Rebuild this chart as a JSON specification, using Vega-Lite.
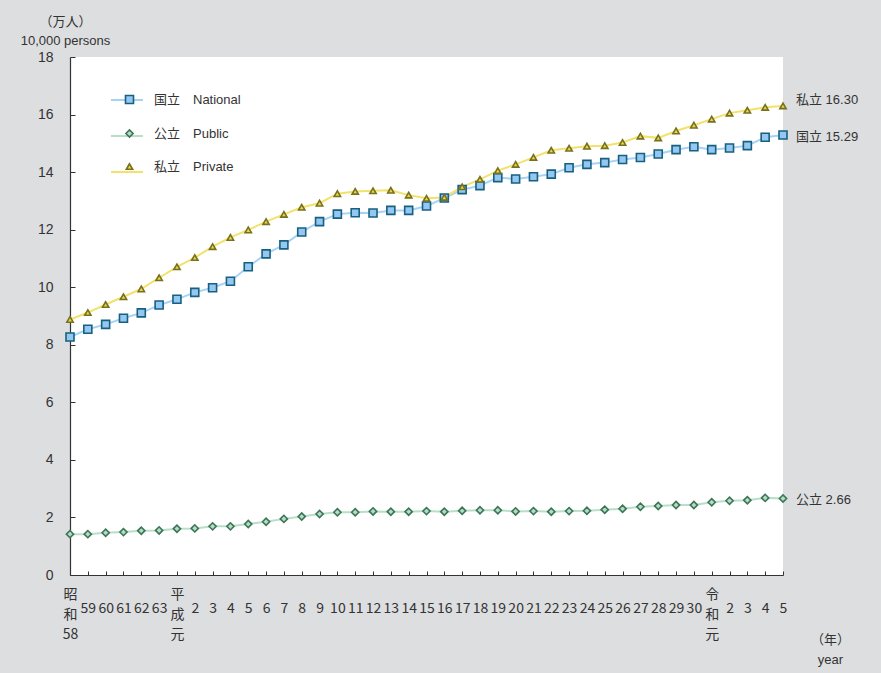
{
  "$schema": "https://vega.github.io/schema/vega-lite/v6.json",
  "width": 713,
  "height": 518,
  "autosize": "none",
  "padding": {"left": 70, "top": 57, "right": 98, "bottom": 98},
  "background": "#dddee0",
  "config": {
    "view": {"fill": "white", "stroke": null},
    "font": "Liberation Sans, Noto Sans CJK JP",
    "axis": {"domainColor": "#333333", "tickColor": "#333333", "labelColor": "#333333", "titleColor": "#333333", "grid": false, "domainWidth": 1.2, "tickWidth": 1}
  },
  "data": {
    "values": [
      {"year": 1983, "国立": 8.27, "公立": 1.42, "私立": 8.88},
      {"year": 1984, "国立": 8.54, "公立": 1.42, "私立": 9.12},
      {"year": 1985, "国立": 8.71, "公立": 1.47, "私立": 9.40},
      {"year": 1986, "国立": 8.92, "公立": 1.49, "私立": 9.67},
      {"year": 1987, "国立": 9.11, "公立": 1.54, "私立": 9.94},
      {"year": 1988, "国立": 9.38, "公立": 1.55, "私立": 10.33},
      {"year": 1989, "国立": 9.58, "公立": 1.61, "私立": 10.71},
      {"year": 1990, "国立": 9.82, "公立": 1.62, "私立": 11.03},
      {"year": 1991, "国立": 9.98, "公立": 1.69, "私立": 11.41},
      {"year": 1992, "国立": 10.21, "公立": 1.69, "私立": 11.73},
      {"year": 1993, "国立": 10.71, "公立": 1.77, "私立": 11.99},
      {"year": 1994, "国立": 11.16, "公立": 1.85, "私立": 12.28},
      {"year": 1995, "国立": 11.47, "公立": 1.95, "私立": 12.53},
      {"year": 1996, "国立": 11.92, "公立": 2.03, "私立": 12.78},
      {"year": 1997, "国立": 12.28, "公立": 2.12, "私立": 12.92},
      {"year": 1998, "国立": 12.54, "公立": 2.18, "私立": 13.25},
      {"year": 1999, "国立": 12.59, "公立": 2.18, "私立": 13.33},
      {"year": 2000, "国立": 12.58, "公立": 2.21, "私立": 13.35},
      {"year": 2001, "国立": 12.67, "公立": 2.20, "私立": 13.37},
      {"year": 2002, "国立": 12.67, "公立": 2.20, "私立": 13.20},
      {"year": 2003, "国立": 12.82, "公立": 2.22, "私立": 13.09},
      {"year": 2004, "国立": 13.10, "公立": 2.20, "私立": 13.12},
      {"year": 2005, "国立": 13.39, "公立": 2.23, "私立": 13.49},
      {"year": 2006, "国立": 13.53, "公立": 2.25, "私立": 13.75},
      {"year": 2007, "国立": 13.81, "公立": 2.25, "私立": 14.05},
      {"year": 2008, "国立": 13.76, "公立": 2.21, "私立": 14.27},
      {"year": 2009, "国立": 13.84, "公立": 2.22, "私立": 14.51},
      {"year": 2010, "国立": 13.93, "公立": 2.20, "私立": 14.76},
      {"year": 2011, "国立": 14.15, "公立": 2.22, "私立": 14.83},
      {"year": 2012, "国立": 14.27, "公立": 2.23, "私立": 14.90},
      {"year": 2013, "国立": 14.33, "公立": 2.27, "私立": 14.92},
      {"year": 2014, "国立": 14.44, "公立": 2.30, "私立": 15.03},
      {"year": 2015, "国立": 14.51, "公立": 2.37, "私立": 15.25},
      {"year": 2016, "国立": 14.63, "公立": 2.40, "私立": 15.19},
      {"year": 2017, "国立": 14.78, "公立": 2.43, "私立": 15.43},
      {"year": 2018, "国立": 14.88, "公立": 2.43, "私立": 15.63},
      {"year": 2019, "国立": 14.78, "公立": 2.53, "私立": 15.84},
      {"year": 2020, "国立": 14.84, "公立": 2.58, "私立": 16.05},
      {"year": 2021, "国立": 14.92, "公立": 2.60, "私立": 16.15},
      {"year": 2022, "国立": 15.21, "公立": 2.68, "私立": 16.25},
      {"year": 2023, "国立": 15.29, "公立": 2.66, "私立": 16.30}
    ]
  },
  "transform": [{"fold": ["国立", "公立", "私立"], "as": ["series", "value"]}],
  "encoding": {
    "x": {
      "field": "year",
      "type": "ordinal",
      "scale": {"type": "point", "padding": 0},
      "axis": {
        "labelAngle": 0,
        "labelOverlap": false,
        "labelFlush": false,
        "labelExpr": "datum.value == 1983 ? ['昭','和','58'] : datum.value == 1989 ? ['平','成','元'] : datum.value == 2019 ? ['令','和','元'] : datum.value < 1989 ? '' + (datum.value - 1925) : datum.value < 2019 ? '' + (datum.value - 1988) : '' + (datum.value - 2018)",
        "labelBaseline": "middle",
        "labelLineHeight": 20,
        "labelFontSize": 14,
        "labelFont": "Liberation Sans Narrow, Noto Sans CJK JP",
        "labelPadding": {"condition": {"test": "datum.value == 1983 || datum.value == 1989 || datum.value == 2019", "value": 23}, "value": 37},
        "tickSize": -4,
        "title": ["（年）", "year"],
        "titleAngle": 0,
        "titleAlign": "center",
        "titleBaseline": "top",
        "titleX": 760,
        "titleY": 58,
        "titleFontSize": 13,
        "titleFontWeight": "normal",
        "titleLineHeight": 20
      }
    },
    "y": {
      "field": "value",
      "type": "quantitative",
      "scale": {"domain": [0, 18], "nice": false},
      "axis": {
        "values": [0, 2, 4, 6, 8, 10, 12, 14, 16, 18],
        "tickSize": -5,
        "labelPadding": 22,
        "labelFontSize": 14,
        "title": ["（万人）", "10,000 persons"],
        "titleAngle": 0,
        "titleAlign": "center",
        "titleBaseline": "top",
        "titleX": -5,
        "titleY": -42,
        "titleFontSize": 13,
        "titleFontWeight": "normal",
        "titleLineHeight": 19
      }
    }
  },
  "layer": [
    {
      "mark": {"type": "line", "strokeWidth": 2},
      "encoding": {
        "color": {
          "field": "series",
          "type": "nominal",
          "sort": ["国立", "公立", "私立"],
          "scale": {"range": ["#a6d3f5", "#b7dfca", "#f3e26a"]},
          "legend": {
            "orient": "none",
            "legendX": 40,
            "legendY": 26,
            "title": null,
            "symbolType": "stroke",
            "symbolSize": 1024,
            "symbolStrokeWidth": 2,
            "labelExpr": "''",
            "rowPadding": 14
          }
        }
      }
    },
    {
      "mark": {"type": "point", "filled": true, "strokeWidth": 1.6, "opacity": 1},
      "encoding": {
        "shape": {
          "field": "series",
          "type": "nominal",
          "scale": {"domain": ["国立", "公立", "私立"], "range": ["square", "diamond", "triangle-up"]},
          "legend": {
            "orient": "none",
            "legendX": 53,
            "legendY": 36,
            "title": null,
            "rowPadding": 19,
            "labelOffset": 18,
            "labelFontSize": 13,
            "labelColor": "#333333",
            "symbolStrokeWidth": 1.6,
            "labelExpr": "datum.label == '国立' ? '国立　National' : datum.label == '公立' ? '公立　Public' : '私立　Private'"
          }
        },
        "fill": {
          "field": "series",
          "type": "nominal",
          "scale": {"domain": ["国立", "公立", "私立"], "range": ["#94c8f2", "#b5dcc5", "#e6d64c"]}
        },
        "stroke": {
          "field": "series",
          "type": "nominal",
          "scale": {"domain": ["国立", "公立", "私立"], "range": ["#17607f", "#3d7557", "#77701e"]}
        },
        "size": {
          "field": "series",
          "type": "nominal",
          "scale": {"domain": ["国立", "公立", "私立"], "range": [64, 40, 90]}
        }
      }
    },
    {
      "transform": [
        {"filter": "datum.year == 2023 && datum.series == '私立'"},
        {"calculate": "datum.series + ' ' + format(datum.value, '.2f')", "as": "endLabel"}
      ],
      "mark": {"type": "text", "align": "left", "baseline": "middle", "dx": 13, "dy": -6, "fontSize": 13, "color": "#333333"},
      "encoding": {"text": {"field": "endLabel"}}
    },
    {
      "transform": [
        {"filter": "datum.year == 2023 && datum.series != '私立'"},
        {"calculate": "datum.series + ' ' + format(datum.value, '.2f')", "as": "endLabel"}
      ],
      "mark": {"type": "text", "align": "left", "baseline": "middle", "dx": 13, "dy": 2, "fontSize": 13, "color": "#333333"},
      "encoding": {"text": {"field": "endLabel"}}
    }
  ]
}
